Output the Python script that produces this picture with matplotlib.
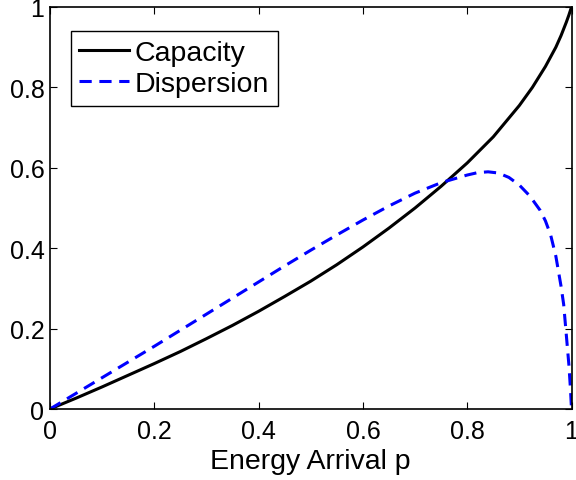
import numpy as np
import matplotlib
matplotlib.use('Agg')
import matplotlib.pyplot as plt
from matplotlib.ticker import FuncFormatter

# values
p_cap = [0, 0.05, 0.1, 0.15, 0.2, 0.25, 0.3, 0.35, 0.4, 0.45, 0.5, 0.55,
         0.6, 0.65, 0.7, 0.75, 0.8, 0.85, 0.9, 0.925, 0.95, 0.97, 0.98,
         0.99, 0.995, 1.0]
capacity = [0, 0.027, 0.055, 0.084, 0.113, 0.143, 0.175, 0.208, 0.243,
            0.28, 0.318, 0.359, 0.403, 0.45, 0.5, 0.554, 0.612, 0.677,
            0.755, 0.8, 0.852, 0.9, 0.929, 0.962, 0.98, 1.0]

p_disp = [0, 0.05, 0.1, 0.15, 0.2, 0.25, 0.3, 0.35, 0.4, 0.45, 0.5, 0.55,
          0.6, 0.65, 0.7, 0.75, 0.8, 0.82, 0.84, 0.86, 0.88, 0.9, 0.92,
          0.94, 0.95, 0.96, 0.97, 0.98, 0.985, 0.99, 0.995, 0.998, 1.0]
dispersion = [0, 0.039, 0.078, 0.117, 0.156, 0.196, 0.236, 0.276, 0.316,
              0.356, 0.395, 0.433, 0.47, 0.505, 0.537, 0.563, 0.582, 0.588,
              0.59, 0.587, 0.576, 0.557, 0.53, 0.494, 0.468, 0.433, 0.38,
              0.305, 0.26, 0.185, 0.11, 0.05, 0]

plt.rcParams['font.family'] = ['Liberation Sans', 'DejaVu Sans']

fig = plt.figure(figsize=(5.76, 4.81), dpi=100)
ax = fig.add_axes([50 / 576, 1 - 410 / 481, 521.5 / 576, 402 / 481])

ax.plot(p_cap, capacity, color='black', lw=2.2, label='Capacity')
ax.plot(p_disp, dispersion, color='blue', lw=2.2, dashes=(4, 2.5),
        label='Dispersion')

ax.set_xlim(0, 1)
ax.set_ylim(0, 1)
ticks = [0, 0.2, 0.4, 0.6, 0.8, 1]
ax.set_xticks(ticks)
ax.set_yticks(ticks)
fmt = FuncFormatter(lambda v, pos: '%g' % v)
ax.xaxis.set_major_formatter(fmt)
ax.yaxis.set_major_formatter(fmt)
ax.tick_params(direction='in', length=5, width=0.8, labelsize=18,
               top=True, right=True)
ax.tick_params(axis='x', pad=7)
ax.tick_params(axis='y', pad=4)
for s in ax.spines.values():
    s.set_linewidth(1.2)

ax.set_xlabel('Energy Arrival p', fontsize=20.5, labelpad=4)

leg = ax.legend(loc='upper left', bbox_to_anchor=(0.04, 0.94),
                borderaxespad=0, fontsize=20.5, fancybox=False,
                handlelength=1.75, handletextpad=0.2, borderpad=0.3,
                labelspacing=0.2, framealpha=1)
leg.get_frame().set_edgecolor('black')
leg.get_frame().set_linewidth(1.0)

fig.savefig('out.png', dpi=100)
